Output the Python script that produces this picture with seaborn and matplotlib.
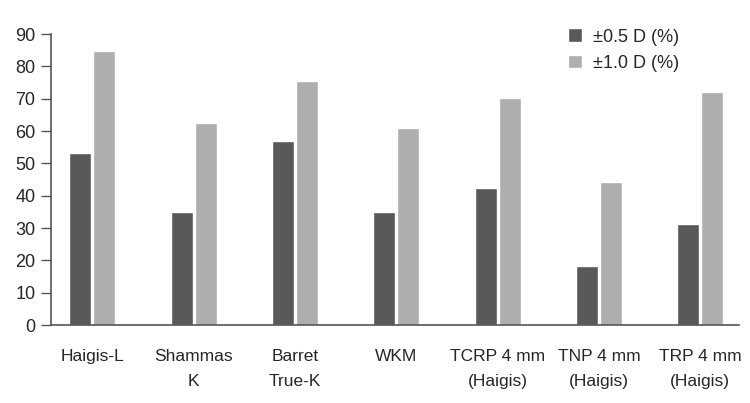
import pandas as pd
import numpy as np
import matplotlib.pyplot as plt
import seaborn as sns

categories=['Haigis-L','Shammas\nK','Barret\nTrue-K','WKM','TCRP 4 mm\n(Haigis)','TNP 4 mm\n(Haigis)','TRP 4 mm\n(Haigis)']
series=['\u00b10.5 D (%)','\u00b11.0 D (%)']
within_05=[53.3,35.0,57.0,35.0,42.3,18.3,31.2]
within_10=[84.9,62.5,75.6,60.8,70.1,44.1,72.2]
yticks=[0,10,20,30,40,50,60,70,80,90]

df=pd.DataFrame({'method':categories*2,
                 'series':[series[0]]*len(categories)+[series[1]]*len(categories),
                 'value':within_05+within_10})

sns.set_theme(style='white',rc={"axes.spines.right":False,"axes.spines.top":False})
plt.rcParams['font.family']=['Liberation Sans','DejaVu Sans']

fig=plt.figure(figsize=(7.5,4.03),dpi=100)
ax=fig.add_axes([0.0676,0.1935,0.9174,0.7221])
sns.barplot(df,x='method',y='value',hue='series',palette=['#595959','#aeaeae'],
            width=0.474,gap=0.085,saturation=1,ax=ax)

ax.set_ylim(0,90)
ax.set_xlim(-0.41,6.38)
ax.set_yticks(yticks)
ax.tick_params(axis='y',left=True,length=7,width=1,color='#555555',labelsize=13,pad=4)
ax.tick_params(axis='x',bottom=False,labelsize=12.5,pad=11)
for lab in ax.get_xticklabels():
    lab.set_linespacing(1.85)
for s in ['left','bottom']:
    ax.spines[s].set_color('#555555')
    ax.spines[s].set_linewidth(1.2)
ax.set(xlabel='',ylabel='')

leg=ax.legend(loc='upper left',bbox_to_anchor=(0.728,1.075),frameon=False,fontsize=13,
              handlelength=0.8,handleheight=0.8,handletextpad=0.6,labelspacing=0.5)

plt.savefig('out.png',dpi=100)
